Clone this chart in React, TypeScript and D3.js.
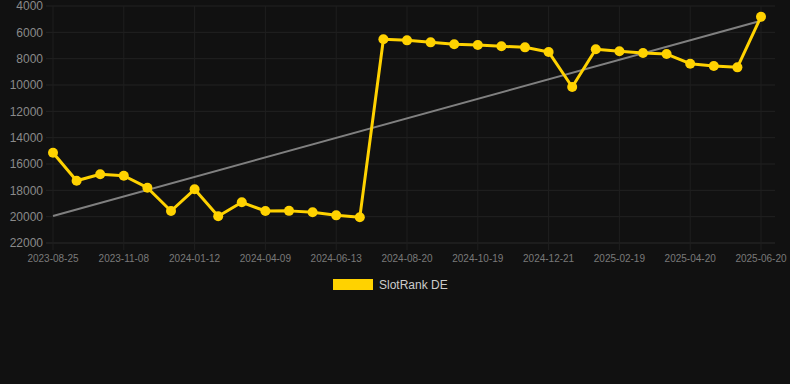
import React from "react";
import * as d3 from "d3";

const values: number[] = [
  15140, 17270, 16780, 16890, 17800, 19570, 17920, 19970, 18910, 19570,
  19560, 19670, 19900, 20050, 6520, 6610, 6760, 6910, 6960, 7060,
  7140, 7490, 10150, 7290, 7440, 7570, 7650, 8380, 8560, 8660, 4810,
];
const tickLabels: string[] = [
  "2023-08-25", "2023-11-08", "2024-01-12", "2024-04-09", "2024-06-13",
  "2024-08-20", "2024-10-19", "2024-12-21", "2025-02-19", "2025-04-20", "2025-06-20",
];
const yTicks: number[] = [4000, 6000, 8000, 10000, 12000, 14000, 16000, 18000, 20000, 22000];
const trendStart = 19950;
const trendEnd = 5120;
const seriesName = "SlotRank DE";

const W = 790;
const H = 384;
const YELLOW = "#FFD200";

export default function App() {
  const idx = values.map((_, i) => i);
  const x = d3.scalePoint<number>().domain(idx).range([53, 761]);
  const y = d3.scaleLinear().domain([4000, 22000]).range([6, 243]);
  const line = d3
    .line<number>()
    .x((_, i) => x(i) as number)
    .y((d) => y(d));
  const tickIdx = idx.filter((i) => i % 3 === 0);

  return (
    <svg
      width={W}
      height={H}
      style={{ position: "absolute", left: 0, top: 0, display: "block" }}
      fontFamily="'Liberation Sans', Arial, Helvetica, sans-serif"
    >
      <rect x={0} y={0} width={W} height={H} fill="#111111" />
      {yTicks.map((t) => (
        <g key={t}>
          <line
            x1={46}
            x2={775}
            y1={y(t)}
            y2={y(t)}
            stroke={t === 22000 ? "#2a2a2a" : "#222222"}
            strokeWidth={1}
          />
          <text x={43} y={y(t)} dy="0.35em" textAnchor="end" fontSize={12} fill="#8a8a8a">
            {t}
          </text>
        </g>
      ))}
      {tickIdx.map((i, k) => (
        <g key={i}>
          <line x1={x(i)} x2={x(i)} y1={6} y2={250} stroke="#1f1f1f" strokeWidth={1} />
          <text x={x(i)} y={262} textAnchor="middle" fontSize={10} fill="#7a7a7a">
            {tickLabels[k]}
          </text>
        </g>
      ))}
      <line
        x1={x(0)}
        x2={x(values.length - 1)}
        y1={y(trendStart)}
        y2={y(trendEnd)}
        stroke="#808080"
        strokeWidth={2}
      />
      <path d={line(values) || ""} fill="none" stroke={YELLOW} strokeWidth={3} strokeLinejoin="round" />
      {values.map((v, i) => (
        <circle key={i} cx={x(i)} cy={y(v)} r={5} fill={YELLOW} />
      ))}
      <rect x={333} y={279} width={40} height={11} fill={YELLOW} />
      <text x={379} y={289} fontSize={12} fill="#cccccc">
        {seriesName}
      </text>
    </svg>
  );
}
